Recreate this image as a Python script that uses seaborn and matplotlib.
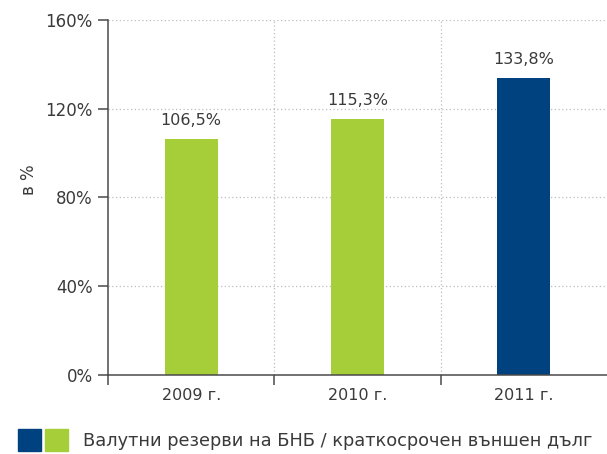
import matplotlib
matplotlib.use("Agg")
import matplotlib.pyplot as plt
import seaborn as sns
import pandas as pd
from matplotlib.patches import Patch
from matplotlib.legend_handler import HandlerTuple
from matplotlib.ticker import FixedLocator

# data
years = ["2009 г.", "2010 г.", "2011 г."]
ratio = [106.5, 115.3, 133.8]
bar_colors = ["#a6ce39", "#a6ce39", "#00417f"]
legend_label = "Валутни резерви на БНБ / краткосрочен външен дълг"

sns.set_theme(style="white")
plt.rcParams["font.family"] = ["DejaVu Sans"]
text_col = "#3a3a3a"

df = pd.DataFrame({"year": years, "ratio": ratio})

fig = plt.figure(figsize=(6.07, 4.54), dpi=100)
ax = fig.add_axes([0.178, 0.174, 0.822, 0.782])

sns.barplot(data=df, x="year", y="ratio", hue="year", palette=bar_colors,
            width=0.32, legend=False, ax=ax, saturation=1, linewidth=0)

for cont in ax.containers:
    ax.bar_label(cont, labels=[f"{v:.1f}%".replace(".", ",") for v in cont.datavalues],
                 padding=8, fontsize=11.5, color=text_col)

ax.set_ylim(0, 160)
ax.set_xlim(-0.5, 2.5)
ax.set_yticks([0, 40, 80, 120, 160])
ax.set_yticklabels([f"{t}%" for t in [0, 40, 80, 120, 160]])
ax.xaxis.set_minor_locator(FixedLocator([-0.5, 0.5, 1.5]))

for y in [40, 80, 120, 160]:
    ax.axhline(y, color="#bdbdbd", linestyle=(0, (1, 2)), linewidth=0.9, zorder=0)
for x in [0.5, 1.5]:
    ax.axvline(x, color="#bdbdbd", linestyle=(0, (1, 2)), linewidth=0.9, zorder=0)

for s in ["top", "right"]:
    ax.spines[s].set_visible(False)
for s in ["left", "bottom"]:
    ax.spines[s].set_color("#4a4a4a")
    ax.spines[s].set_linewidth(1.1)

ax.tick_params(axis="y", which="major", direction="out", length=7, width=1.1,
               color="#4a4a4a", labelsize=12, labelcolor=text_col, pad=4, left=True)
ax.tick_params(axis="x", which="major", length=0, labelsize=11.5, labelcolor=text_col, pad=9)
ax.tick_params(axis="x", which="minor", direction="out", length=7, width=1.1,
               color="#4a4a4a", bottom=True)

ax.set_xlabel("")
ax.set_ylabel("в %", fontsize=12, color=text_col)
ax.yaxis.set_label_coords(-0.14, 0.55)

handle = (Patch(color="#00417f"), Patch(color="#a6ce39"))
fig.legend([handle], [legend_label], handler_map={tuple: HandlerTuple(ndivide=None, pad=0.2)},
           loc="center left", bbox_to_anchor=(0.03, 0.031), frameon=False, borderpad=0,
           borderaxespad=0, handlelength=2.8, handleheight=1.5, handletextpad=0.85,
           fontsize=12.8, labelcolor=text_col)

fig.savefig("out.png", dpi=100)
